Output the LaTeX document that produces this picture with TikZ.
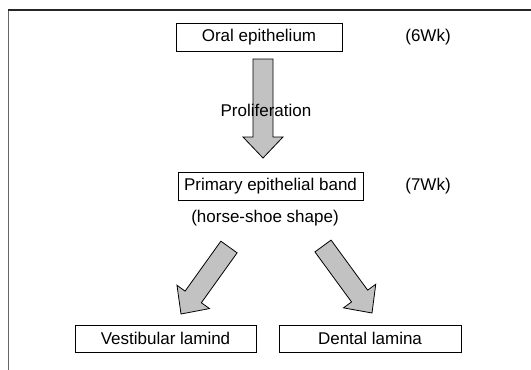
\documentclass[tikz,border=0pt]{standalone}
\usepackage{fontspec}
\setmainfont{Liberation Sans}
\usetikzlibrary{calc}

\tikzset{
  stagebox/.style={draw=black, line width=0.9pt, inner sep=0pt, minimum height=28pt, font=\fontsize{17}{20}\selectfont},
  plaintext/.style={inner sep=0pt, font=\fontsize{17}{20}\selectfont},
  fatarrow/.style={draw=black, line width=0.8pt, fill=black!24, line join=miter},
  frameline/.style={draw=black!60, line width=0.8pt}
}

% block arrow from tail #1 to tip #2
\newcommand{\blockarrow}[2]{%
  \coordinate (#1-#2-h) at ($(#2)!21pt!(#1)$);
  \draw[fatarrow] ($(#1)!10pt!-90:(#2)$) -- ($(#1-#2-h)!10pt!-90:(#2)$) -- ($(#1-#2-h)!20pt!-90:(#2)$) -- (#2)
    -- ($(#1-#2-h)!20pt!90:(#2)$) -- ($(#1-#2-h)!10pt!90:(#2)$) -- ($(#1)!10pt!90:(#2)$) -- cycle;}

\begin{document}
\begin{tikzpicture}[x=1pt,y=1pt,yscale=-1,xscale=1]
\useasboundingbox (0,0) rectangle (531,370);

% frame
\draw[frameline] (8,10) -- (8,370);
\draw[frameline, draw=black!85, line width=1.1pt] (8,10) -- (531,10);

% Arrow ends
\coordinate (prolS) at (263,59);
\coordinate (prolE) at (263,158);
\coordinate (vestS) at (229,247);
\coordinate (vestE) at (181,314);
\coordinate (dentS) at (323,246);
\coordinate (dentE) at (372,313);

\blockarrow{prolS}{prolE}
\blockarrow{vestS}{vestE}
\blockarrow{dentS}{dentE}

% Stage boxes
\node[stagebox, minimum width=166pt] (oral) at (259,37) {Oral epithelium};
\node[stagebox, minimum width=185pt] (band) at (270.5,186) {Primary epithelial band};
\node[stagebox, minimum width=181pt, minimum height=27pt] (vest) at (165.5,338.5) {Vestibular lamind};
\node[stagebox, minimum width=182pt, minimum height=27pt] (dent) at (370,338.5) {Dental lamina};

% Text Node
\node[plaintext] (prol) at (266,110) {Proliferation};
\node[plaintext] (shoe) at (265,218) {(horse-shoe shape)};
\node[plaintext] (wk6) at (428,37) {(6Wk)};
\node[plaintext] (wk7) at (428,186) {(7Wk)};

\end{tikzpicture}
\end{document}
